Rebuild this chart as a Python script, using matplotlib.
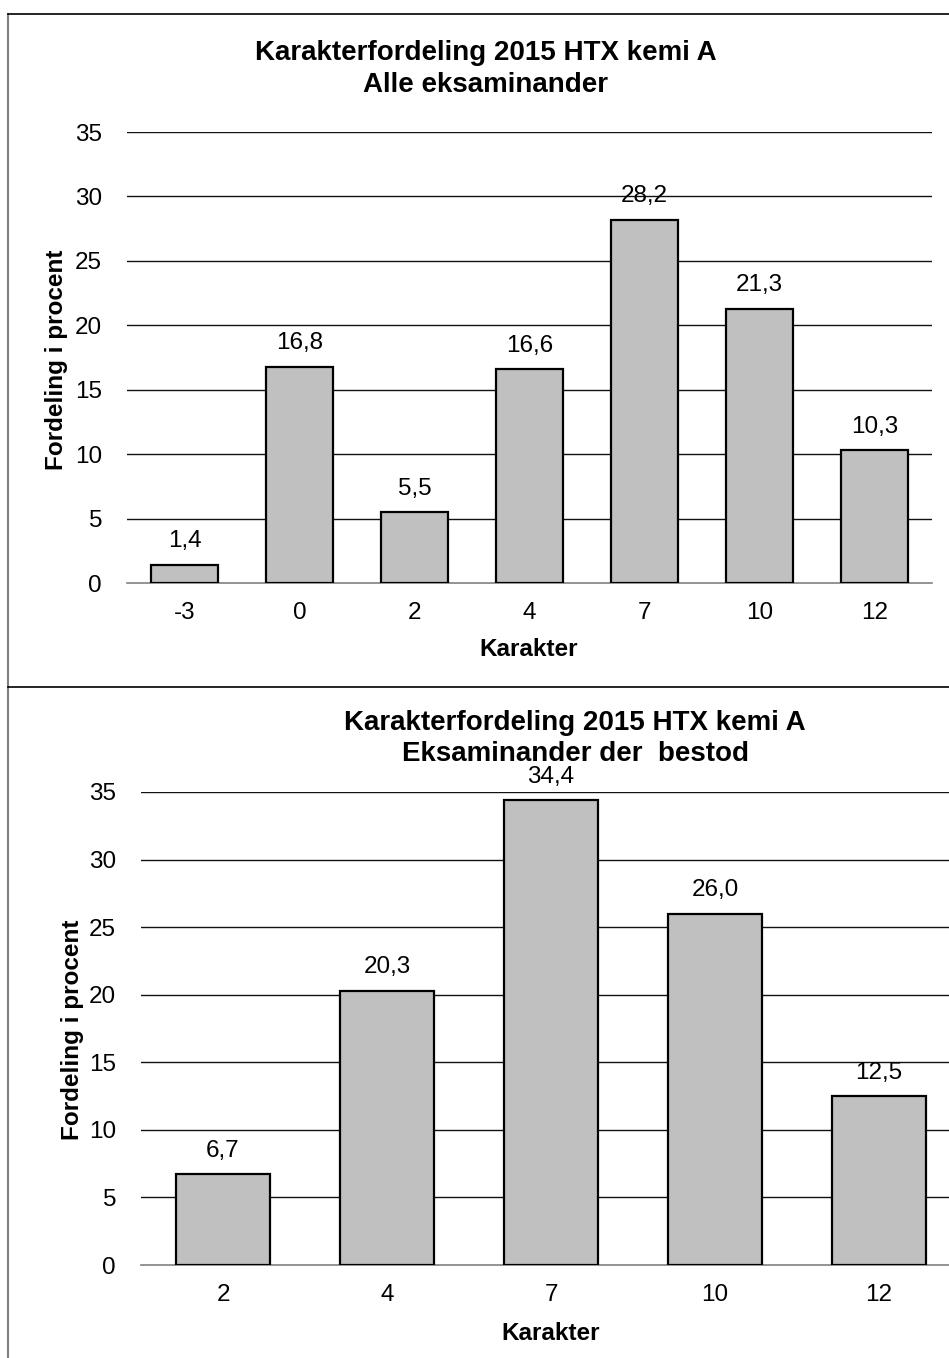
import matplotlib
matplotlib.use("Agg")
import matplotlib.pyplot as plt
from matplotlib.lines import Line2D

plt.rcParams['font.family'] = ['Liberation Sans', 'DejaVu Sans']

# Grade distribution, all examinees
grades_all = ["-3", "0", "2", "4", "7", "10", "12"]
pct_all = [1.4, 16.8, 5.5, 16.6, 28.2, 21.3, 10.3]

# Grade distribution, examinees who passed
grades_pass = ["2", "4", "7", "10", "12"]
pct_pass = [6.7, 20.3, 34.4, 26.0, 12.5]

title_all = "Karakterfordeling 2015 HTX kemi A\nAlle eksaminander"
title_pass = "Karakterfordeling 2015 HTX kemi A\nEksaminander der  bestod"
ylabel = "Fordeling i procent"
xlabel = "Karakter"

W, H = 949, 1358
fig = plt.figure(figsize=(W / 100, H / 100), dpi=100)


def fx(px):
    return px / W


def fy(py):
    return 1 - py / H


FS = 17.5
BAR_COLOR = "#C0C0C0"


def draw(ax, cats, vals):
    x = list(range(len(cats)))
    ax.bar(x, vals, width=0.575, color=BAR_COLOR, edgecolor="black",
           linewidth=1.6, zorder=3)
    ax.set_xlim(-0.5, len(cats) - 0.5)
    ax.set_ylim(0, 35)
    ax.set_yticks(range(0, 36, 5))
    ax.set_xticks(x)
    ax.set_xticklabels(cats)
    ax.tick_params(axis="both", length=0, labelsize=FS)
    ax.tick_params(axis="y", pad=18)
    ax.tick_params(axis="x", pad=14)
    for s in ("top", "right", "left"):
        ax.spines[s].set_visible(False)
    ax.spines["bottom"].set_color("#808080")
    ax.spines["bottom"].set_linewidth(1.2)
    for t in range(5, 36, 5):
        ax.axhline(t, color="#111111", linewidth=1.0, zorder=1)
    for xi, v in zip(x, vals):
        ax.annotate(f"{v:.1f}".replace(".", ","), (xi, v),
                    xytext=(0, 9), textcoords="offset points",
                    ha="center", va="bottom", fontsize=FS)


# Upper chart
ax1 = fig.add_axes([fx(127), fy(583), fx(805), (583 - 132) / H])
draw(ax1, grades_all, pct_all)
fig.text(fx(486), fy(69), title_all, ha="center", va="center",
         fontsize=20, fontweight="bold", linespacing=1.25)
fig.text(fx(57), fy(360), ylabel, rotation=90, ha="center", va="center",
         fontsize=FS, fontweight="bold")
fig.text(fx(529), fy(649), xlabel, ha="center", va="center",
         fontsize=FS, fontweight="bold")

# Lower chart
ax2 = fig.add_axes([fx(141), fy(1265), fx(820), (1265 - 792) / H])
draw(ax2, grades_pass, pct_pass)
fig.text(fx(575), fy(739), title_pass, ha="center", va="center",
         fontsize=20, fontweight="bold", linespacing=1.25)
fig.text(fx(72), fy(1030), ylabel, rotation=90, ha="center", va="center",
         fontsize=FS, fontweight="bold")
fig.text(fx(551), fy(1333), xlabel, ha="center", va="center",
         fontsize=FS, fontweight="bold")

# Chart frames
fig.add_artist(Line2D([fx(8), fx(8)], [fy(14), 0], color="#808080",
                      linewidth=1.5, transform=fig.transFigure))
fig.add_artist(Line2D([fx(8), 1], [fy(14), fy(14)], color="black",
                      linewidth=1.2, transform=fig.transFigure))
fig.add_artist(Line2D([fx(8), 1], [fy(687), fy(687)], color="black",
                      linewidth=1.2, transform=fig.transFigure))

fig.savefig("out.png", dpi=100, facecolor="white")
